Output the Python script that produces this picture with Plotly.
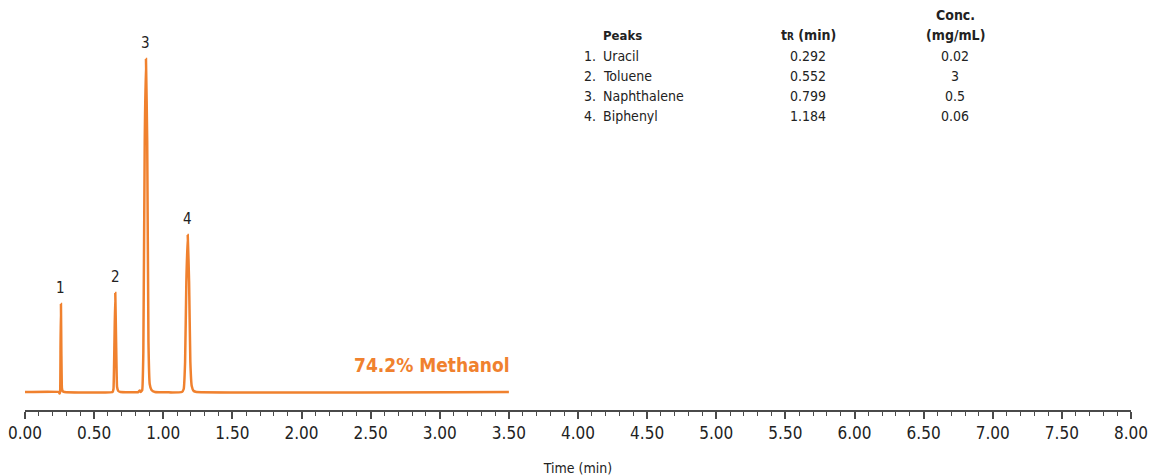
import plotly.graph_objects as go

# ---- Data ----
# Chromatogram trace (time in min, detector signal in arbitrary units above baseline)
time_min = [0.000, 0.245, 0.250, 0.254, 0.257, 0.260, 0.263, 0.267, 0.272, 0.285,
            0.633, 0.640, 0.647, 0.653, 0.659, 0.666, 0.675, 0.690,
            0.820, 0.830, 0.838, 0.848, 0.856, 0.866, 0.875, 0.884, 0.893, 0.902, 0.915, 0.940,
            1.135, 1.148, 1.158, 1.167, 1.177, 1.187, 1.196, 1.206, 1.220, 1.240, 3.500]
signal = [0, 0, -1.5, 0, 45, 88, 40, 4, 1, 0,
          0, 3, 50, 99, 50, 5, 1, 0,
          0, 1.5, 0, 2, 40, 250, 333, 250, 50, 8, 2, 0,
          0, 3, 30, 110, 157, 110, 30, 6, 1, 0, 0]

# Peak labels on the chromatogram
peak_ids = ["1", "2", "3", "4"]
peak_apex_time = [0.260, 0.653, 0.875, 1.177]
peak_apex_height = [88, 99, 333, 157]

# Peak table
table_names = ["Uracil", "Toluene", "Naphthalene", "Biphenyl"]
table_tr = ["0.292", "0.552", "0.799", "1.184"]
table_conc = ["0.02", "3", "0.5", "0.06"]

# Axis ticks
x_tick_vals = [i * 0.5 for i in range(17)]
x_tick_text = [f"{v:.2f}" for v in x_tick_vals]

condition_label = "74.2% Methanol"

# ---- Styling ----
ORANGE = "#F0812E"
AXIS = "#4a4a4a"
TEXT = "#222222"
FONT = "DejaVu Sans Condensed, Liberation Sans Narrow, sans-serif"

W, H = 1149, 476
ML, MR, MT, MB = 25, 18, 10, 66
PW = W - ML - MR
PH = H - MT - MB


def px_x(p):
    return (p - ML) / PW


def px_y(p):
    return (H - MB - p) / PH


fig = go.Figure()
fig.add_trace(go.Scatter(
    x=time_min, y=signal, mode="lines",
    line=dict(color=ORANGE, width=2.5, shape="spline", smoothing=0.3),
    hoverinfo="skip", showlegend=False,
))

annotations = []
for pid, t, h in zip(peak_ids, peak_apex_time, peak_apex_height):
    annotations.append(dict(
        x=t, y=h, xref="x", yref="y", text=pid, showarrow=False,
        yanchor="bottom", yshift=5, font=dict(family=FONT, size=15, color=TEXT),
    ))

annotations.append(dict(
    x=3.5, y=27, xref="x", yref="y", text=f"<b>{condition_label}</b>", showarrow=False,
    xanchor="right", yanchor="middle", xshift=3, font=dict(family=FONT, size=19, color=ORANGE),
))

# table headers
hdr_font = dict(family=FONT, size=14, color=TEXT)
annotations += [
    dict(x=px_x(601), y=px_y(35.5), xref="paper", yref="paper", text="<b>Peaks</b>",
         showarrow=False, xanchor="left", yanchor="middle", font=dict(family=FONT, size=13, color=TEXT)),
    dict(x=px_x(808), y=px_y(35.5), xref="paper", yref="paper",
         text="<b>t<span style='font-size:10px'>R</span> (min)</b>",
         showarrow=False, xanchor="center", yanchor="middle", font=hdr_font),
    dict(x=px_x(955), y=px_y(15), xref="paper", yref="paper", text="<b>Conc.</b>",
         showarrow=False, xanchor="center", yanchor="middle", font=hdr_font),
    dict(x=px_x(955), y=px_y(35.5), xref="paper", yref="paper", text="<b>(mg/mL)</b>",
         showarrow=False, xanchor="center", yanchor="middle", font=hdr_font),
]
row_font = dict(family=FONT, size=14, color=TEXT)
for i, (nm, tr, cc) in enumerate(zip(table_names, table_tr, table_conc)):
    ypix = 55.5 + i * 20.1
    annotations += [
        dict(x=px_x(598), y=px_y(ypix), xref="paper", yref="paper", text=f"{i + 1}.",
             showarrow=False, xanchor="right", yanchor="middle", font=row_font),
        dict(x=px_x(601), y=px_y(ypix), xref="paper", yref="paper", text=nm,
             showarrow=False, xanchor="left", yanchor="middle", font=row_font),
        dict(x=px_x(808), y=px_y(ypix), xref="paper", yref="paper", text=tr,
             showarrow=False, xanchor="center", yanchor="middle", font=row_font),
        dict(x=px_x(955), y=px_y(ypix), xref="paper", yref="paper", text=cc,
             showarrow=False, xanchor="center", yanchor="middle", font=row_font),
    ]

fig.update_layout(
    width=W, height=H,
    margin=dict(l=ML, r=MR, t=MT, b=MB, pad=0, autoexpand=False),
    paper_bgcolor="white", plot_bgcolor="white",
    font=dict(family=FONT, color=TEXT),
    showlegend=False,
    annotations=annotations,
    xaxis=dict(
        range=[0, 8], tickmode="array", tickvals=x_tick_vals, ticktext=x_tick_text,
        showline=True, linecolor=AXIS, linewidth=1.5,
        ticks="outside", ticklen=7, tickwidth=1.5, tickcolor=AXIS,
        minor=dict(dtick=0.1, tick0=0, ticks="outside", ticklen=4, tickwidth=1.2,
                   tickcolor=AXIS, showgrid=False),
        showgrid=False, zeroline=False, automargin=False,
        tickfont=dict(family=FONT, size=17, color=TEXT),
        title=dict(text="Time (min)", font=dict(family=FONT, size=14, color=TEXT), standoff=22),
        fixedrange=True,
    ),
    yaxis=dict(
        range=[-18, PH - 18], visible=False, showgrid=False, zeroline=False, fixedrange=True,
    ),
)

fig.write_html("out.html", config={"displayModeBar": False},
               post_script="document.body.style.margin='0px';")
